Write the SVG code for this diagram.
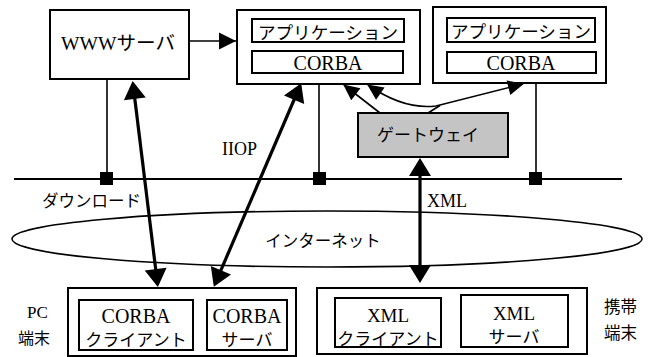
<svg xmlns="http://www.w3.org/2000/svg" width="659" height="357" viewBox="0 0 659 357">
<style>
.box{fill:#fff;stroke:#000;stroke-width:2}
.gw{fill:#c4c4c4;stroke:#000;stroke-width:2}
.ln{fill:none;stroke:#000;stroke-width:1.6}
.big{fill:none;stroke:#000;stroke-width:3.2}
.t{font-family:"Liberation Serif","Noto Sans CJK JP",serif;fill:#000}
.j{font-family:"Noto Sans CJK JP","Liberation Serif",sans-serif;fill:#000}
.m{text-anchor:middle}
</style>
<defs>
<marker id="bh" viewBox="-20 -13 26 26" markerWidth="26" markerHeight="26" refX="0" refY="0" markerUnits="userSpaceOnUse" orient="auto-start-reverse">
<path d="M3,0 L-15,-11 L-15,11 z" fill="#000"/>
</marker>
<marker id="mh" viewBox="-20 -13 26 26" markerWidth="26" markerHeight="26" refX="0" refY="0" markerUnits="userSpaceOnUse" orient="auto-start-reverse">
<path d="M0,0 L-17,-8.5 L-17,8.5 z" fill="#000"/>
</marker>
<marker id="sh" viewBox="-20 -13 26 26" markerWidth="26" markerHeight="26" refX="0" refY="0" markerUnits="userSpaceOnUse" orient="auto-start-reverse">
<path d="M1,0 L-15,-7.5 L-15,7.5 z" fill="#000"/>
</marker>
</defs>

<g id="network">
<line x1="14" y1="179" x2="622" y2="179" stroke="#000" stroke-width="2"/>
</g>

<g id="internet">
<ellipse cx="327" cy="239" rx="315" ry="28" fill="none" stroke="#000" stroke-width="1.6"/>
<text class="j m" x="323" y="247" font-size="16.5">インターネット</text>
</g>

<g id="www">
<rect class="box" x="50" y="10" width="139" height="69"/>
<text class="t m" x="118" y="50" font-size="19" textLength="114" lengthAdjust="spacingAndGlyphs">WWWサーバ</text>
</g>

<g id="app1">
<rect class="box" x="237" y="10" width="183" height="74"/>
<rect class="box" x="252" y="19" width="152" height="23"/>
<text class="j m" x="328" y="39" font-size="17.5" textLength="140" lengthAdjust="spacingAndGlyphs">アプリケーション</text>
<rect class="box" x="252" y="51" width="151" height="22"/>
<text class="t m" x="328" y="70" font-size="20">CORBA</text>
</g>

<g id="app2">
<rect class="box" x="433" y="7" width="173" height="76"/>
<rect class="box" x="447" y="18" width="148" height="24"/>
<text class="j m" x="521" y="38" font-size="17.5" textLength="140" lengthAdjust="spacingAndGlyphs">アプリケーション</text>
<rect class="box" x="447" y="52" width="149" height="21"/>
<text class="t m" x="521" y="70" font-size="20">CORBA</text>
</g>

<g id="gateway">
<rect class="gw" x="358" y="113" width="150" height="44"/>
<text class="j m" x="428" y="141" font-size="17">ゲートウェイ</text>
</g>

<g id="pc">
<rect class="box" x="68" y="288" width="228" height="68"/>
<rect class="box" x="79" y="300" width="114" height="50"/>
<text class="t m" x="136" y="323" font-size="20">CORBA</text>
<text class="j m" x="136" y="346" font-size="17">クライアント</text>
<rect class="box" x="207" y="300" width="80" height="50"/>
<text class="t m" x="247" y="323" font-size="20">CORBA</text>
<text class="j m" x="247" y="346" font-size="17">サーバ</text>
<text class="t" x="27" y="318" font-size="17">PC</text>
<text class="j" x="18" y="344" font-size="16">端末</text>
</g>

<g id="mobile">
<rect class="box" x="317" y="288" width="270" height="66"/>
<rect class="box" x="335" y="298" width="106" height="49"/>
<text class="t m" x="388" y="322" font-size="19">XML</text>
<text class="j m" x="388" y="345" font-size="17">クライアント</text>
<rect class="box" x="461" y="295" width="107" height="52"/>
<text class="t m" x="514" y="320" font-size="19">XML</text>
<text class="j m" x="514" y="343" font-size="17">サーバ</text>
<text class="j" x="604" y="313" font-size="16.5">携帯</text>
<text class="j" x="604" y="339" font-size="16.5">端末</text>
</g>

<g id="connectors">
<line class="ln" x1="189" y1="41" x2="236" y2="41" marker-end="url(#mh)"/>
<line class="ln" x1="107" y1="79" x2="107" y2="179"/>
<rect x="100" y="172" width="13" height="13" fill="#000"/>
<line class="ln" x1="319" y1="84" x2="319" y2="179"/>
<rect x="313" y="172" width="13" height="13" fill="#000"/>
<line class="ln" x1="536" y1="83" x2="536" y2="179"/>
<rect x="529" y="172" width="13" height="13" fill="#000"/>
<line class="big" x1="133" y1="84" x2="157.5" y2="284" marker-start="url(#bh)" marker-end="url(#bh)"/>
<line class="big" x1="300" y1="86" x2="215" y2="284" marker-start="url(#bh)" marker-end="url(#bh)"/>
<line class="big" x1="420" y1="161" x2="420" y2="280" marker-start="url(#bh)" marker-end="url(#bh)"/>
<line class="ln" x1="380" y1="113" x2="344" y2="85" marker-end="url(#sh)"/>
<path class="ln" d="M368,85 Q404,110 436,106 L523,84" marker-start="url(#sh)" marker-end="url(#sh)"/>
<line class="ln" x1="428" y1="113" x2="440" y2="105.5"/>
<text class="t" x="222" y="155" font-size="18">IIOP</text>
<text class="j" x="42" y="207" font-size="16.5">ダウンロード</text>
<text class="t" x="427" y="207" font-size="18">XML</text>
</g>
</svg>
